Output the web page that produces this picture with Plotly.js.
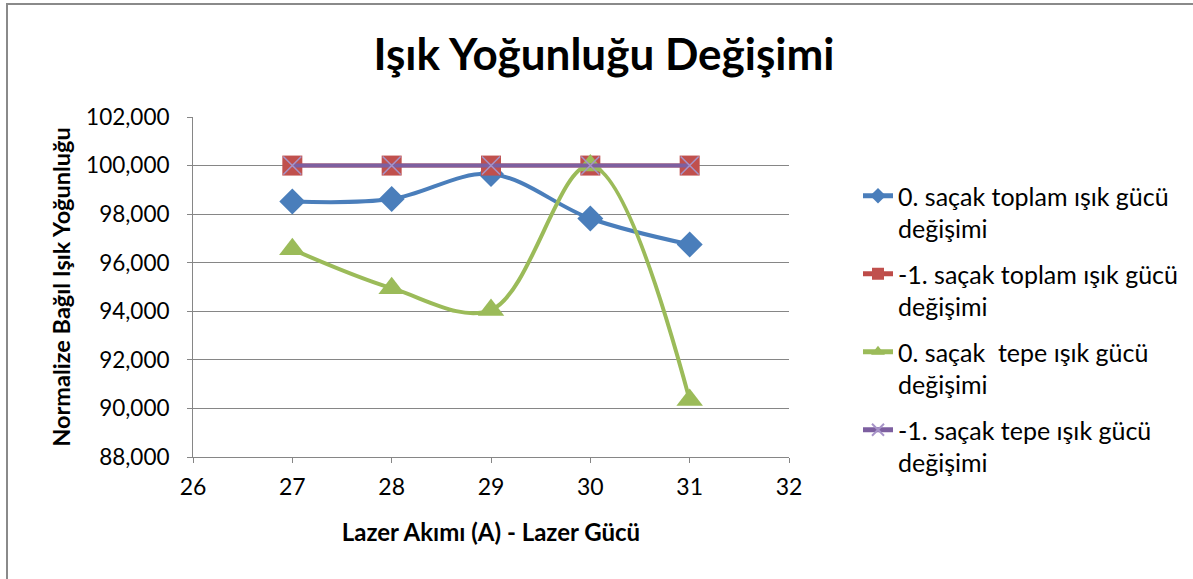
<!DOCTYPE html>
<html>
<head>
<meta charset="utf-8">
<script src="https://cdn.plot.ly/plotly-3.0.1.min.js"></script>
<style>
  html, body { margin: 0; padding: 0; background: #fff; }
  #wrap { position: relative; width: 1193px; height: 579px; overflow: hidden; }
  #chart { width: 1193px; height: 579px; }
  #frame { position: absolute; left: 6px; top: 3px; right: -10px; bottom: -10px;
           border-left: 2px solid #8a8a8a; border-top: 2px solid #8a8a8a; pointer-events: none; }
</style>
</head>
<body>
<div id="wrap">
  <div id="chart"></div>
  <div id="frame"></div>
</div>
<script>
// ---- data ----
const current = [27, 28, 29, 30, 31];
const seriesNames = [
  "0. saçak toplam ışık gücü<br>değişimi",
  "-1. saçak toplam ışık gücü<br>değişimi",
  "0. saçak  tepe ışık gücü<br>değişimi",
  "-1. saçak tepe ışık gücü<br>değişimi"
];
const zeroOrderTotal = [98.52, 98.62, 99.65, 97.82, 96.75];
const minusOneTotal = [100, 100, 100, 100, 100];
const zeroOrderPeak = [96.55, 94.95, 94.05, 100.0, 90.35];
const minusOnePeak = [100, 100, 100, 100, 100];
const yTicks = [88, 90, 92, 94, 96, 98, 100, 102];
const xTicks = [26, 27, 28, 29, 30, 31, 32];

const FONT = "Lato, 'Open Sans', sans-serif";

const traces = [
  { x: current, y: zeroOrderTotal, name: seriesNames[0], legendgroup: "g1", type: "scatter", mode: "lines+markers",
    line: { color: "#4A7EBB", width: 4, shape: "spline", smoothing: 1 },
    marker: { symbol: "diamond", size: 20, color: "#4A7EBB" } },
  { x: current, y: minusOneTotal, name: seriesNames[1], legendgroup: "g2", type: "scatter", mode: "lines+markers",
    line: { color: "#BE4B48", width: 4, shape: "spline", smoothing: 1 },
    marker: { symbol: "square", size: 20, color: "#C0504D" } },
  { x: current, y: zeroOrderPeak, name: seriesNames[2], legendgroup: "g3", type: "scatter", mode: "lines+markers",
    line: { color: "#9BBB59", width: 4, shape: "spline", smoothing: 1 },
    marker: { symbol: "triangle-up", size: 23, color: "#9BBB59" } },
  { x: current, y: minusOnePeak, name: seriesNames[3], legendgroup: "g4", type: "scatter", mode: "lines+markers",
    line: { color: "#7D5FA0", width: 4, shape: "spline", smoothing: 1 },
    marker: { symbol: "x-thin-open", size: 18, color: "#A794C8", line: { width: 1.5, color: "#A794C8" } } }
];

const layout = {
  width: 1193, height: 579,
  paper_bgcolor: "#fff", plot_bgcolor: "#fff",
  separators: ",.",
  font: { family: FONT, color: "#000", size: 22 },
  margin: { l: 193, r: 404, t: 117, b: 122, autoexpand: false },
  title: { text: "<b>Işık Yoğunluğu Değişimi</b>", font: { family: FONT, size: 44, color: "#000" },
           x: 604 / 1193, xref: "container", xanchor: "center", y: 1 - 55 / 579, yanchor: "middle" },
  xaxis: {
    range: [26, 32], tickvals: xTicks, ticktext: xTicks.map(String),
    showgrid: false, zeroline: false, showline: true, linecolor: "#868686", linewidth: 1,
    ticks: "outside", ticklen: 5, tickcolor: "#868686",
    tickfont: { family: FONT, size: 23, color: "#000" }, ticklabelstandoff: 4,
    title: { text: "<b>Lazer Akımı (A) - Lazer Gücü</b>", font: { family: FONT, size: 24, color: "#000" }, standoff: 25 }
  },
  yaxis: {
    range: [88, 102], tickvals: yTicks, tickformat: ".3f",
    showgrid: true, gridcolor: "#868686", gridwidth: 1, zeroline: false,
    showline: true, linecolor: "#868686", linewidth: 1,
    ticks: "outside", ticklen: 5, tickcolor: "#868686",
    tickfont: { family: FONT, size: 22.5, color: "#000" }, ticklabelstandoff: 13,
    title: { text: "<b>Normalize Bağıl Işık Yoğunluğu</b>", font: { family: FONT, size: 23.5, color: "#000" }, standoff: 8 }
  },
  legend: {
    x: (858 - 193) / 596, xanchor: "left", y: 1 - (173 - 117) / 340, yanchor: "top",
    font: { family: FONT, size: 25, color: "#000" }, valign: "top",
    tracegroupgap: 10,
    itemsizing: "constant", bgcolor: "rgba(0,0,0,0)"
  },
  showlegend: true
};

Plotly.newPlot("chart", traces, layout, { displayModeBar: false, staticPlot: true });
</script>
</body>
</html>
